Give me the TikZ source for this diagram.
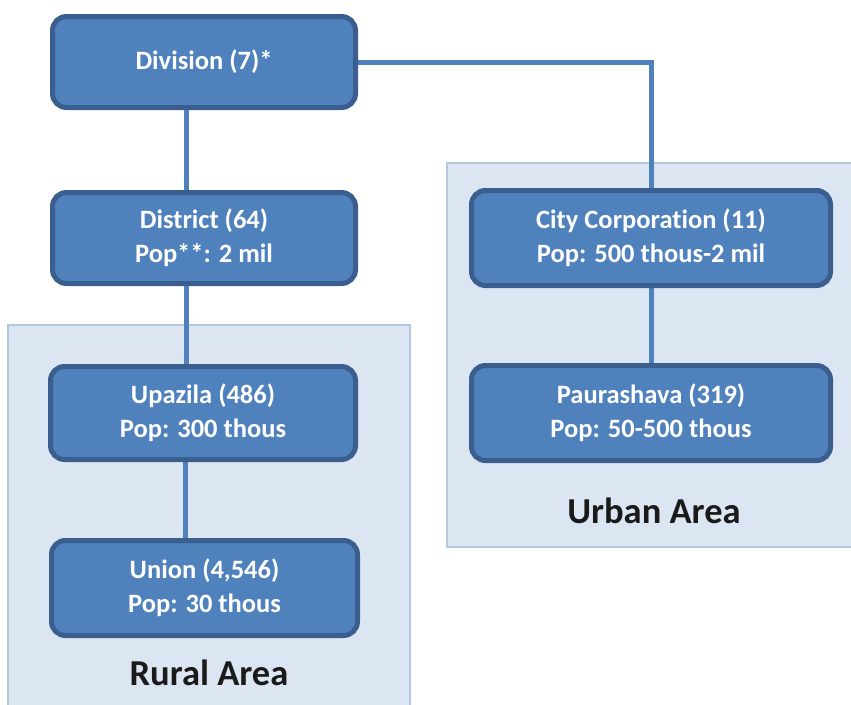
\documentclass[tikz,border=0pt]{standalone}
\usepackage{fontspec}
\setmainfont{Carlito}[Ligatures=NoCommon]
\usetikzlibrary{backgrounds}
\definecolor{boxfill}{HTML}{4F81BD}
\definecolor{boxline}{HTML}{3A5F8E}
\definecolor{areafill}{HTML}{DCE6F2}
\definecolor{arealine}{HTML}{B4C7E0}
\definecolor{labeltext}{HTML}{1A1A1A}
\pgfdeclarelayer{areas}
\pgfdeclarelayer{links}
\pgfsetlayers{areas,links,main}
\tikzset{
  unit/.style={draw=boxline, line width=5pt, fill=boxfill, rounded corners=14pt,
    text=white, align=center, inner sep=0pt,
    font=\bfseries\fontsize{26.5}{34}\selectfont},
  area/.style={fill=areafill, draw=arealine, line width=1.2pt},
  arealabel/.style={text=labeltext, font=\bfseries\fontsize{36.5}{40}\selectfont},
  link/.style={draw=boxfill, line width=5pt}
}
\begin{document}
\begin{tikzpicture}[x=1pt,y=-1pt]
\useasboundingbox (0,0) rectangle (851,704);

% administrative units
\node[unit, minimum width=303pt, minimum height=91pt] (div)  at (204,62)  {Division (7)*};
\node[unit, minimum width=303pt, minimum height=91pt] (dist) at (204,238) {District (64)\\Pop**: 2 mil};
\node[unit, minimum width=305pt, minimum height=93pt] (upa)  at (203,413) {Upazila (486)\\Pop: 300 thous};
\node[unit, minimum width=306pt, minimum height=95pt] (uni)  at (204.5,588) {Union (4,546)\\Pop: 30 thous};
\node[unit, minimum width=359pt, minimum height=95pt] (city) at (651,238) {City Corporation (11)\\Pop: 500 thous-2 mil};
\node[unit, minimum width=359pt, minimum height=95pt] (pau)  at (651,413) {Paurashava (319)\\Pop: 50-500 thous};

% rural and urban areas
\begin{pgfonlayer}{areas}
  \path[area] (8,325) rectangle (410,712);
  \path[area] (447,163) rectangle (858,547);
\end{pgfonlayer}
\node[arealabel] (rural) at (209,673) {Rural Area};
\node[arealabel] (urban) at (654,511) {Urban Area};

% hierarchy links
\begin{pgfonlayer}{links}
  \draw[link] ([xshift=-18pt]div.south) -- ([xshift=-18pt]dist.north);
  \draw[link] ([xshift=-18pt]dist.south) -- ([xshift=-17pt]upa.north);
  \draw[link] ([xshift=-17.5pt]upa.south) -- ([xshift=-19pt]uni.north);
  \draw[link] (div.east) -| (city.north);
  \draw[link] (city.south) -- (pau.north);
\end{pgfonlayer}
\end{tikzpicture}
\end{document}
